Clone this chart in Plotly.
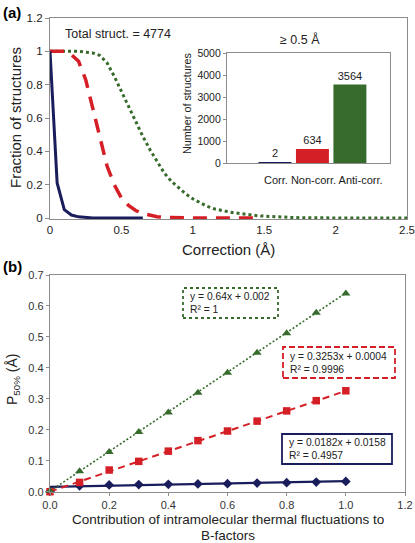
import plotly.graph_objects as go

W, H = 415, 543
FONT = "Liberation Sans, Arial, sans-serif"

NAVY = "#1a1d5c"
RED = "#d51f26"
GREEN = "#366b2c"
AXC = "#8c8c8c"
TXT = "#222222"

# ---------------- Panel (a) data ----------------
navy_x = [0.0, 0.05, 0.1, 0.15, 0.2, 0.25, 0.3, 0.35, 0.4, 0.45, 0.5, 0.55, 0.6, 0.65]
navy_y = [1.0, 0.21, 0.05, 0.018, 0.007, 0.002, 0.0005, 0.0, 0.0, 0.0, 0.0, 0.0, 0.0, 0.0]

red_x = [0.0, 0.05, 0.1, 0.15, 0.2, 0.25, 0.3, 0.35, 0.4, 0.45, 0.5, 0.55, 0.6, 0.65,
         0.7, 0.75, 0.8, 0.85, 0.9, 0.95, 1.0, 1.05, 1.1, 1.15, 1.2, 1.25, 1.3, 1.35, 1.4, 1.45]
red_y = [1.0, 1.0, 1.0, 0.98, 0.94, 0.83, 0.65, 0.47, 0.31, 0.2, 0.12, 0.075, 0.045, 0.027,
         0.015, 0.008, 0.004, 0.002, 0.001, 0.0, 0.0, 0.0, 0.0, 0.0, 0.0, 0.0, 0.0, 0.0, 0.0, 0.0]

green_x = [0.0, 0.05, 0.1, 0.15, 0.2, 0.25, 0.3, 0.35, 0.4, 0.45, 0.5, 0.55, 0.6, 0.65, 0.7,
           0.75, 0.8, 0.85, 0.9, 0.95, 1.0, 1.05, 1.1, 1.15, 1.2, 1.25, 1.3, 1.35, 1.4, 1.45,
           1.5, 1.55, 1.6, 1.65, 1.7, 1.75, 1.8, 1.85, 1.9, 1.95, 2.0, 2.05, 2.1, 2.15, 2.2,
           2.25, 2.3, 2.35, 2.4, 2.45, 2.5]
green_y = [1.0, 1.0, 1.0, 1.0, 1.0, 0.995, 0.99, 0.975, 0.93, 0.85, 0.76, 0.66, 0.57, 0.49, 0.41,
           0.34, 0.27, 0.22, 0.18, 0.145, 0.115, 0.09, 0.07, 0.055, 0.045, 0.037, 0.03, 0.024, 0.018, 0.014,
           0.011, 0.008, 0.006, 0.004, 0.003, 0.002, 0.001, 0.001, 0.0, 0.0, 0.0, 0.0, 0.0, 0.0, 0.0,
           0.0, 0.0, 0.0, 0.0, 0.0, 0.0]

# Inset bar data
bar_cats = ["Corr.", "Non-corr.", "Anti-corr."]
bar_vals = [2, 634, 3564]
bar_colors = [NAVY, RED, GREEN]

# ---------------- Panel (b) data ----------------
contrib = [0.0, 0.1, 0.2, 0.3, 0.4, 0.5, 0.6, 0.7, 0.8, 0.9, 1.0]
p50_green = [0.002, 0.066, 0.128, 0.193, 0.256, 0.320, 0.384, 0.449, 0.512, 0.578, 0.640]
p50_red = [0.0, 0.030, 0.070, 0.098, 0.131, 0.165, 0.196, 0.228, 0.261, 0.294, 0.326]
p50_navy = [0.001, 0.019, 0.022, 0.023, 0.024, 0.025, 0.026, 0.028, 0.029, 0.031, 0.033]

fit_slopes = {"green": 0.64, "red": 0.3253, "navy": 0.0182}
fit_intercepts = {"green": 0.002, "red": 0.0004, "navy": 0.0158}
fit_r2 = {"green": "1", "red": "0.9996", "navy": "0.4957"}
fit_range = [0.0, 1.0]


def px(x):
    return x / W


def py(y):
    return 1 - y / H


fig = go.Figure()

# Panel (a) curves
fig.add_trace(go.Scatter(x=green_x, y=green_y, mode="lines", xaxis="x", yaxis="y",
                         line=dict(color=GREEN, width=3, dash="dot"), showlegend=False))
fig.add_trace(go.Scatter(x=red_x, y=red_y, mode="lines", xaxis="x", yaxis="y",
                         line=dict(color=RED, width=3.5, dash="14px,9px"), showlegend=False))
fig.add_trace(go.Scatter(x=navy_x, y=navy_y, mode="lines", xaxis="x", yaxis="y",
                         line=dict(color=NAVY, width=3), showlegend=False))

# Inset bars
fig.add_trace(go.Bar(x=bar_cats, y=bar_vals, xaxis="x3", yaxis="y3",
                     marker=dict(color=bar_colors, line=dict(width=0)),
                     text=[str(v) for v in bar_vals], textposition="outside",
                     textfont=dict(family=FONT, size=11, color=TXT),
                     cliponaxis=False, showlegend=False))

# Panel (b) trendlines
styles = {
    "navy": dict(color=NAVY, width=2.2),
    "red": dict(color=RED, width=2, dash="7px,5px"),
    "green": dict(color=GREEN, width=1.6, dash="2px,2px"),
}
for key in ["navy", "red", "green"]:
    ys = [fit_slopes[key] * xv + fit_intercepts[key] for xv in fit_range]
    fig.add_trace(go.Scatter(x=fit_range, y=ys, mode="lines", xaxis="x2", yaxis="y2",
                             line=styles[key], showlegend=False, hoverinfo="skip"))

# Panel (b) markers
fig.add_trace(go.Scatter(x=contrib, y=p50_navy, mode="markers", xaxis="x2", yaxis="y2",
                         marker=dict(symbol="diamond", size=7.5, color=NAVY),
                         cliponaxis=False, showlegend=False))
fig.add_trace(go.Scatter(x=contrib, y=p50_red, mode="markers", xaxis="x2", yaxis="y2",
                         marker=dict(symbol="square", size=7.5, color=RED),
                         cliponaxis=False, showlegend=False))
fig.add_trace(go.Scatter(x=contrib, y=p50_green, mode="markers", xaxis="x2", yaxis="y2",
                         marker=dict(symbol="triangle-up", size=8, color=GREEN),
                         cliponaxis=False, showlegend=False))

tickfont = dict(family=FONT, size=11.5, color=TXT)

fig.update_layout(
    width=W, height=H,
    margin=dict(l=0, r=0, t=0, b=0, pad=0, autoexpand=False),
    paper_bgcolor="white", plot_bgcolor="rgba(0,0,0,0)",
    font=dict(family=FONT, color=TXT),
    bargap=0.12,
    xaxis=dict(domain=[px(50), px(407)], range=[0, 2.5], dtick=0.5, anchor="y", automargin=False,
               showline=True, linecolor=AXC, linewidth=1.3, mirror=True,
               showgrid=False, zeroline=False, ticks="", tickfont=tickfont),
    yaxis=dict(domain=[py(219), py(18)], range=[-0.006, 1.2], dtick=0.2, anchor="x", automargin=False,
               showline=True, linecolor=AXC, linewidth=1.3, mirror=True,
               showgrid=False, zeroline=False, ticks="outside", ticklen=4, tickcolor=AXC,
               tickfont=tickfont),
    xaxis3=dict(domain=[px(227), px(390)], range=[-1.28, 3.07], anchor="y3", automargin=False,
                showline=True, linecolor=AXC, linewidth=1.2, mirror=True,
                showgrid=False, zeroline=False, showticklabels=False, ticks=""),
    yaxis3=dict(domain=[py(163), py(53)], range=[0, 5000], dtick=1000, anchor="x3", automargin=False,
                showline=True, linecolor=AXC, linewidth=1.2, mirror=True,
                showgrid=False, zeroline=False, ticks="outside", ticklen=3, tickcolor=AXC,
                tickfont=dict(family=FONT, size=10.5, color=TXT)),
    xaxis2=dict(domain=[px(50), px(405)], range=[0, 1.2], dtick=0.2, tickformat=".1f", anchor="y2",
                automargin=False,
                showline=True, linecolor=AXC, linewidth=1.3, mirror=True,
                showgrid=False, zeroline=False, ticks="outside", ticklen=3, tickcolor=AXC,
                tickfont=dict(family=FONT, size=11, color="#333333")),
    yaxis2=dict(domain=[py(491.7), py(275)], range=[0, 0.7], dtick=0.1, tickformat=".1f", anchor="x2",
                automargin=False,
                showline=True, linecolor=AXC, linewidth=1.3, mirror=True,
                showgrid=False, zeroline=False, ticks="outside", ticklen=3, tickcolor=AXC,
                tickfont=dict(family=FONT, size=11, color="#333333")),
)

annotations = [
    dict(text="<b>(a)</b>", x=px(1), y=py(2), xanchor="left", yanchor="top",
         font=dict(family=FONT, size=15, color="#000")),
    dict(text="<b>(b)</b>", x=px(1), y=py(256), xanchor="left", yanchor="top",
         font=dict(family=FONT, size=15, color="#000")),
    dict(text="Total struct. = 4774", x=px(63), y=py(34), xanchor="left", yanchor="middle",
         font=dict(family=FONT, size=12.5, color=TXT)),
    dict(text="≥ 0.5 Å", x=px(300), y=py(39), xanchor="center", yanchor="middle",
         font=dict(family=FONT, size=12.5, color=TXT)),
    dict(text="Corr. Non-corr. Anti-corr.", x=px(323), y=py(180), xanchor="center", yanchor="middle",
         font=dict(family=FONT, size=11, color=TXT)),
    # axis titles
    dict(text="Fraction of structures", x=px(15), y=py(118), textangle=-90,
         xanchor="center", yanchor="middle", font=dict(family=FONT, size=15, color=TXT)),
    dict(text="Correction (Å)", x=px(228), y=py(249), xanchor="center", yanchor="middle",
         font=dict(family=FONT, size=15, color=TXT)),
    dict(text="Number of structures", x=px(187), y=py(104), textangle=-90,
         xanchor="center", yanchor="middle", font=dict(family=FONT, size=10.8, color=TXT)),
    dict(text="Contribution of intramolecular thermal fluctuations to", x=px(228), y=py(519),
         xanchor="center", yanchor="middle", font=dict(family=FONT, size=13.5, color=TXT)),
    dict(text="B-factors", x=px(228), y=py(535),
         xanchor="center", yanchor="middle", font=dict(family=FONT, size=13.5, color=TXT)),
    dict(text="P<sub>50%</sub> (Å)", x=px(13), y=py(379), textangle=-90,
         xanchor="center", yanchor="middle", font=dict(family=FONT, size=14, color=TXT)),
]

boxes = [
    ("green", 183, 288, 278, 318, dict(color=GREEN, width=1.8, dash="dot")),
    ("red", 283, 347, 395, 378, dict(color=RED, width=1.8, dash="6px,3px")),
    ("navy", 282, 434, 392, 464, dict(color=NAVY, width=1.8)),
]
shapes = []
for key, x0, y0, x1, y1, ln in boxes:
    shapes.append(dict(type="rect", xref="paper", yref="paper",
                       x0=px(x0), x1=px(x1), y0=py(y1), y1=py(y0),
                       line=ln, fillcolor="white", layer="above"))
    eq = "y = {}x + {}<br>R² = {}".format(fit_slopes[key], fit_intercepts[key], fit_r2[key])
    annotations.append(dict(text=eq, x=px(x0 + 5), y=py((y0 + y1) / 2), xanchor="left",
                            yanchor="middle", align="left", showarrow=False,
                            font=dict(family=FONT, size=10.3, color=TXT)))

for a in annotations:
    a.setdefault("showarrow", False)
    a["xref"] = "paper"
    a["yref"] = "paper"

fig.update_layout(annotations=annotations, shapes=shapes)

fig.write_html("out.html",
               config={"displayModeBar": False},
               post_script="document.body.style.margin='0';document.body.style.overflow='hidden';")
